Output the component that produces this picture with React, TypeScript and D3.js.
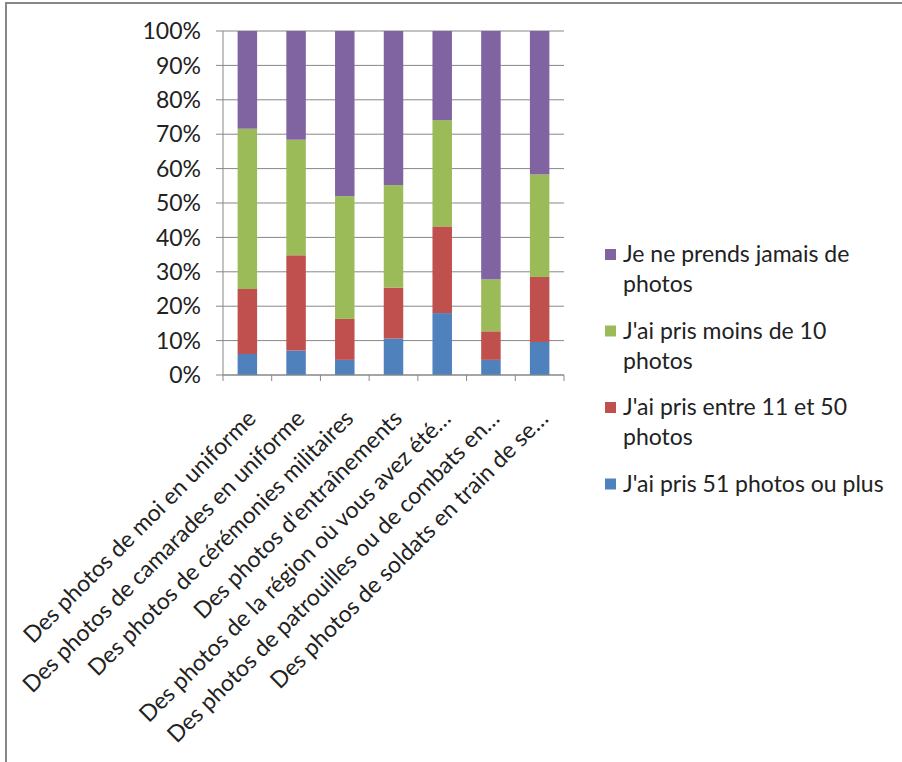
import React from "react";
import * as d3 from "d3";

// Categories (x axis) and the four answer groups, stacked bottom to top
const categories = [
  "Des photos de moi en uniforme",
  "Des photos de camarades en uniforme",
  "Des photos de cérémonies militaires",
  "Des photos d'entraînements",
  "Des photos de la région où vous avez été…",
  "Des photos de patrouilles ou de combats en…",
  "Des photos de soldats en train de se…",
];

const plus51 = [6.1, 7.1, 4.4, 10.6, 18.0, 4.4, 9.6];
const entre11et50 = [18.9, 27.7, 11.9, 14.8, 25.2, 8.3, 18.9];
const moins10 = [46.6, 33.6, 35.7, 29.8, 30.9, 15.1, 29.8];
const jamais = [28.4, 31.6, 48.0, 44.8, 25.9, 72.2, 41.7];

const seriesKeys = ["plus51", "entre11et50", "moins10", "jamais"];
const seriesColors = ["#4F81BD", "#C0504D", "#9BBB59", "#8064A2"];
// Legend text, wrapped lines per entry (listed top to bottom)
const legendLines = [
  ["Je ne prends jamais de", "photos"],
  ["J'ai pris moins de 10", "photos"],
  ["J'ai pris entre 11 et 50", "photos"],
  ["J'ai pris 51 photos ou plus"],
];
const legendColors = ["#8064A2", "#9BBB59", "#C0504D", "#4F81BD"];

const yTicks = [0, 10, 20, 30, 40, 50, 60, 70, 80, 90, 100];

const W = 902;
const H = 762;
const FONT = "Lato, 'Open Sans', sans-serif";
const FS = 23;

export default function App() {
  const left = 223;
  const right = 564;
  const top = 31;
  const bottom = 375;

  const rows = categories.map((c, i) => ({
    cat: c,
    plus51: plus51[i],
    entre11et50: entre11et50[i],
    moins10: moins10[i],
    jamais: jamais[i],
  }));

  const stacked = d3.stack<any>().keys(seriesKeys)(rows);

  const x = d3.scaleBand<string>().domain(categories).range([left, right]).paddingInner(0).paddingOuter(0);
  const y = d3.scaleLinear().domain([0, 100]).range([bottom, top]);
  const barW = x.bandwidth() * 0.4;

  const catTicks = categories.map((c) => x(c) as number).concat([right]);

  return (
    <svg
      width={W}
      height={H}
      style={{ position: "absolute", left: 0, top: 0, background: "#fff" }}
      fontFamily={FONT}
    >
      <rect x={0} y={0} width={W} height={H} fill="#fff" />
      {/* chart frame */}
      <rect x={6} y={3} width={W + 20} height={H + 20} fill="none" stroke="#878787" strokeWidth={2} />

      {/* gridlines */}
      {yTicks.map((t) => (
        <line key={t} x1={left - 7} x2={right} y1={y(t)} y2={y(t)} stroke="#878787" strokeWidth={1} />
      ))}

      {/* bars */}
      {stacked.map((s, si) => (
        <g key={s.key} fill={seriesColors[si]}>
          {s.map((d, i) => (
            <rect
              key={i}
              x={(x(categories[i]) as number) + (x.bandwidth() - barW) / 2}
              y={y(d[1])}
              width={barW}
              height={y(d[0]) - y(d[1])}
            />
          ))}
        </g>
      ))}

      {/* axes */}
      <line x1={left} x2={left} y1={top} y2={bottom} stroke="#878787" strokeWidth={1} />
      <line x1={left} x2={right} y1={bottom} y2={bottom} stroke="#878787" strokeWidth={1} />
      {catTicks.map((tx, i) => (
        <line key={i} x1={tx} x2={tx} y1={bottom} y2={bottom + 6} stroke="#878787" strokeWidth={1} />
      ))}

      {/* y tick labels */}
      {yTicks.map((t) => (
        <text key={t} x={201} y={y(t)} dy="0.36em" textAnchor="end" fontSize={FS} fill="#222">
          {t}%
        </text>
      ))}

      {/* category labels */}
      {categories.map((c) => {
        const cx = (x(c) as number) + x.bandwidth() / 2 + 10;
        const ly = bottom + 45;
        return (
          <text
            key={c}
            x={cx}
            y={ly}
            transform={`rotate(-45 ${cx} ${ly})`}
            textAnchor="end"
            fontSize={FS}
            fill="#222"
          >
            {c}
          </text>
        );
      })}

      {/* legend */}
      {legendLines.map((lines, i) => {
        const baseY = 262 + i * 76.5;
        return (
          <g key={i}>
            <rect x={605} y={baseY - 13} width={11} height={11} fill={legendColors[i]} />
            {lines.map((ln, j) => (
              <text key={j} x={623} y={baseY + j * 30} fontSize={FS} fill="#222">
                {ln}
              </text>
            ))}
          </g>
        );
      })}
    </svg>
  );
}
